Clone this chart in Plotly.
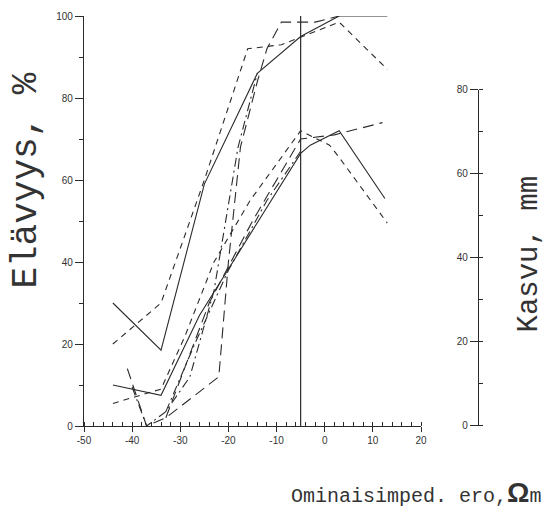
import plotly.graph_objects as go

# Survival (Elävyys, %) series
surv_solid_x = [-44, -34, -25, -14, -5, 3, 13]
surv_solid_y = [30, 18.5, 59, 86, 95, 100, 100]
surv_dash_x = [-44, -34, -25, -16, -9, 3, 13]
surv_dash_y = [20, 30, 60, 92, 93, 98.5, 87]
surv_longdash_x = [-41, -37, -33, -22, -20, -17.5, -14, -12, -9, -2, 3]
surv_longdash_y = [14, 0, 2, 12, 40, 68, 84, 92, 98.5, 98.5, 100]
surv_dashdot_x = [-40, -37, -33, -28, -23, -18, -14]
surv_dashdot_y = [9.5, 0, 3.5, 12, 33, 68, 86]

# Growth (Kasvu) series, drawn on the percent scale
grow_solid_x = [-44, -34, -26, -5, -3, 3, 12.5]
grow_solid_y = [10, 7.5, 27, 66.5, 68.5, 72, 55.5]
grow_dash_x = [-44, -34, -29, -23, -15.5, -5, 1, 3, 13]
grow_dash_y = [5.5, 9, 22, 40, 55, 72, 68.5, 65.5, 49.5]
grow_longdash_x = [-33, -24, -15, -5, 2, 12]
grow_longdash_y = [2, 30, 50, 70, 71, 74]
grow_dashdot_x = [-33, -27, -20, -12, -5]
grow_dashdot_y = [3.5, 20, 38, 55, 67]

# Reference line at zero difference of the target
ref_x = [-5, -5]
ref_y = [0, 100]

x_ticks = [-50, -40, -30, -20, -10, 0, 10, 20]
x_labels = ["-50", "-40", "-30", "-20", "-10", "0", "10", "20"]
y_ticks = [0, 20, 40, 60, 80, 100]
y2_ticks = [0, 20, 40, 60, 80]

INK = "#2b2b2b"
DASH = "6px,5px"
LONGDASH = "11px,6px"
DASHDOT = "9px,4px,2px,4px"

series = [
    (surv_solid_x, surv_solid_y, "solid"),
    (surv_dash_x, surv_dash_y, DASH),
    (surv_longdash_x, surv_longdash_y, LONGDASH),
    (surv_dashdot_x, surv_dashdot_y, DASHDOT),
    (grow_solid_x, grow_solid_y, "solid"),
    (grow_dash_x, grow_dash_y, DASH),
    (grow_longdash_x, grow_longdash_y, LONGDASH),
    (grow_dashdot_x, grow_dashdot_y, DASHDOT),
]

fig = go.Figure()
for xs, ys, dash in series:
    fig.add_trace(go.Scatter(x=xs, y=ys, mode="lines",
                             line=dict(color=INK, width=1.1, dash=dash),
                             hoverinfo="skip", showlegend=False))

fig.add_trace(go.Scatter(x=ref_x, y=ref_y, mode="lines",
                         line=dict(color=INK, width=1.2),
                         hoverinfo="skip", showlegend=False))

# invisible trace so the growth axis is laid out
fig.add_trace(go.Scatter(x=[None], y=[None], yaxis="y2", mode="lines",
                         hoverinfo="skip", showlegend=False))

tick_font = dict(family="Liberation Sans, Arial, sans-serif", size=10, color="#333")
title_font = "Liberation Mono, Courier New, monospace"

W, H = 546, 511
L, R, T, B = 84, 68, 10, 85
plot_w = W - L - R
plot_h = H - T - B

fig.update_layout(
    width=W, height=H,
    margin=dict(l=L, r=R, t=T, b=B),
    paper_bgcolor="white", plot_bgcolor="rgba(0,0,0,0)",
    showlegend=False,
    xaxis=dict(
        range=[-50, 20], domain=[0, (421 - L) / plot_w],
        tickvals=x_ticks, ticktext=x_labels,
        ticks="outside", ticklen=5, tickwidth=1, tickcolor=INK,
        minor=dict(dtick=2, ticks="inside", ticklen=4, tickcolor=INK, showgrid=False),
        showline=True, linecolor=INK, linewidth=1.2,
        showgrid=False, zeroline=False, tickfont=tick_font, fixedrange=True,
    ),
    yaxis=dict(
        range=[0, 100], domain=[0, 1],
        tickvals=y_ticks, ticks="outside", ticklen=8, tickwidth=1, tickcolor=INK,
        minor=dict(dtick=10, ticks="outside", ticklen=4, tickcolor=INK, showgrid=False),
        showline=True, linecolor=INK, linewidth=1.2,
        showgrid=False, zeroline=False, tickfont=tick_font, fixedrange=True,
    ),
    yaxis2=dict(
        range=[0, 80], domain=[0, (426 - 85) / plot_h],
        anchor="free", position=1.0, side="left",
        tickvals=y2_ticks, ticks="outside", ticklen=8, tickwidth=1, tickcolor=INK,
        minor=dict(dtick=10, ticks="inside", ticklen=4, tickcolor=INK, showgrid=False),
        showline=True, linecolor=INK, linewidth=1.2,
        showgrid=False, zeroline=False, tickfont=tick_font, fixedrange=True,
    ),
)

def px_to_paper(px, py):
    return (px - L) / plot_w, (H - B - py) / plot_h

ax, ay = px_to_paper(27, 177)
fig.add_annotation(text="Elävyys, %", x=ax, y=ay, xref="paper", yref="paper",
                   textangle=-90, showarrow=False, xanchor="center", yanchor="middle",
                   font=dict(family=title_font, size=36, color="#333"))

ax, ay = px_to_paper(530, 252)
fig.add_annotation(text="Kasvu, mm", x=ax, y=ay, xref="paper", yref="paper",
                   textangle=-90, showarrow=False, xanchor="center", yanchor="middle",
                   font=dict(family=title_font, size=29, color="#333"))

ax, ay = px_to_paper(544, 493)
fig.add_annotation(
    text="Ominaisimped. ero,<b><span style='font-family:Liberation Sans, Arial;font-size:28px'>Ω</span></b>m",
    x=ax, y=ay, xref="paper", yref="paper", showarrow=False,
    xanchor="right", yanchor="middle",
    font=dict(family=title_font, size=20, color="#333"))

fig.write_html("out.html")
